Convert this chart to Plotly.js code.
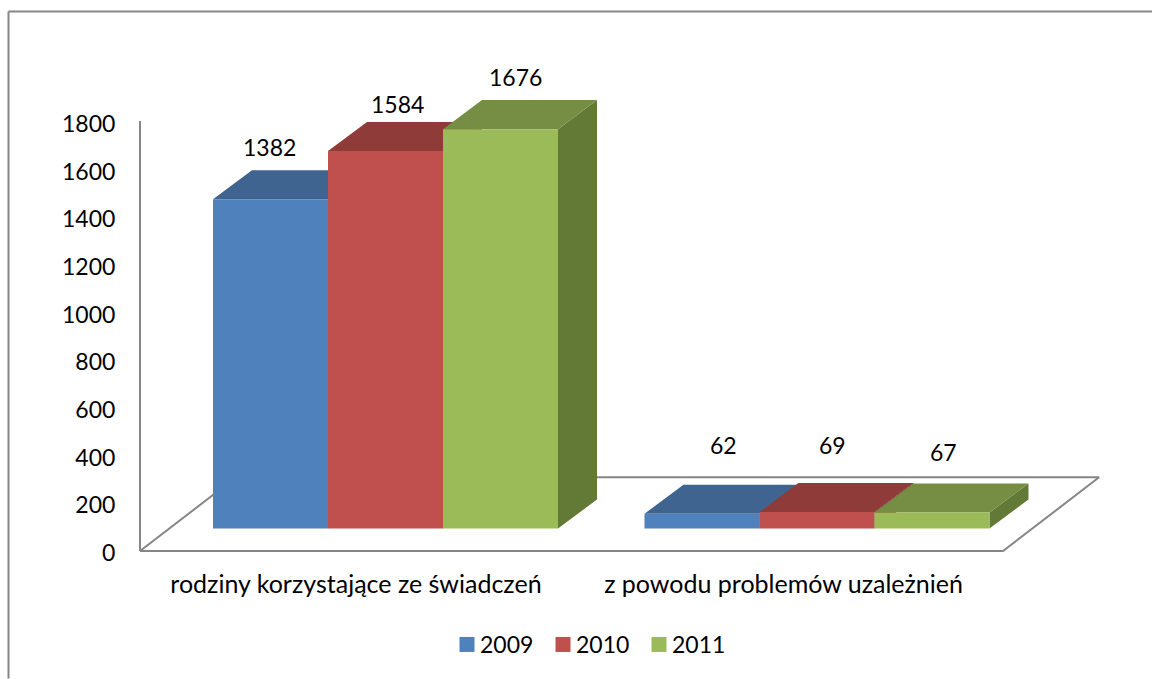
<!DOCTYPE html>
<html><head><meta charset="utf-8">
<script src="https://cdn.plot.ly/plotly-3.0.1.min.js"></script>
<style>html,body{margin:0;padding:0;background:#fff}#c{width:1152px;height:679px}
.legend .legendsymbols{transform:translate(7px,0)}</style>
</head><body><div id="c"></div>
<script>
// --- data ---
const categories = ['rodziny korzystające ze świadczeń', 'z powodu problemów uzależnień'];
const seriesNames = ['2009', '2010', '2011'];
const values2009 = [1382, 62];
const values2010 = [1584, 69];
const values2011 = [1676, 67];
const yTicks = [0, 200, 400, 600, 800, 1000, 1200, 1400, 1600, 1800];

// --- styles ---
const seriesValues = [values2009, values2010, values2011];
const frontColors = ['#4f81bd', '#c0504d', '#9bbb59'];
const topColors = ['#3e648f', '#8e3b39', '#768e43'];
const sideColors = ['#32506f', '#6f2e2c', '#637a36'];
const wallColor = '#868686';
const FONT = 'Lato, Carlito, sans-serif';

// --- scale geometry ---
const W = 1152, H = 679;
const PL = 130, PB = 560.5;    // plot area left and bottom edge, px
const wallPx = 140, zeroPx = 550.5;  // where the wall stands and where value 0 falls, px
const unitPx = 115, originPx = 385.5;           // one bar width, px; x of first group centre
const pxPerValue = 0.2385;
const xMin = (PL - originPx) / unitPx, xMax = (W - originPx) / unitPx;
const xWall = (wallPx - originPx) / unitPx;
const yMin = (zeroPx - PB) / pxPerValue, yMax = zeroPx / pxPerValue;
const groupCenters = [0, 3.752];
const base = 90;                   // bars stand this far in front of the wall on the floor
const depthX = 0.339, depthY = 122;
const floorFront = -4, floorRight = 5.37, floorDepthX = 0.835, floorDepthY = 305;
const labelShifts = [-0.257, -0.291];
// hand-placed data labels in the source: [dx, dy] px from the bar top centre
const labelOffsets = [[[-1, 52], [22, 69]], [[12, 47], [16, 67]], [[15, 52], [12, 61]]];

const traces = [];
// floor
traces.push({x: [xWall, floorRight, floorRight + floorDepthX, xWall + floorDepthX, xWall],
  y: [floorFront, floorFront, floorDepthY, floorDepthY, floorFront], mode: 'lines',
  line: {color: wallColor, width: 2}, showlegend: false, hoverinfo: 'skip'});
// wall axis
traces.push({x: [xWall, xWall], y: [floorFront, yTicks[yTicks.length - 1]], mode: 'lines',
  line: {color: wallColor, width: 2}, showlegend: false, hoverinfo: 'skip'});

function addFace(xs, ys, color) {
  traces.push({x: xs, y: ys, mode: 'lines', fill: 'toself', fillcolor: color,
    line: {width: 0, color: color}, showlegend: false, hoverinfo: 'skip'});
}
const annotations = [];
seriesValues.forEach((vals, s) => {
  const side = {x: [], y: []}, top = {x: [], y: []}, front = {x: [], y: []};
  vals.forEach((v, g) => {
    const x0 = groupCenters[g] + s - 1.5, x1 = x0 + 1, y0 = base, y1 = base + v;
    side.x.push(x1, x1 + depthX, x1 + depthX, x1, x1, null);
    side.y.push(y0, y0 + depthY, y1 + depthY, y1, y0, null);
    top.x.push(x0, x1, x1 + depthX, x0 + depthX, x0, null);
    top.y.push(y1, y1, y1 + depthY, y1 + depthY, y1, null);
    front.x.push(x0, x1, x1, x0, x0, null);
    front.y.push(y0, y0, y1, y1, y0, null);
    annotations.push({x: x0 + 0.5, y: y1, xref: 'x', yref: 'y', text: String(v), showarrow: false,
      xshift: labelOffsets[s][g][0], yshift: labelOffsets[s][g][1],
      font: {family: FONT, size: 23, color: '#000'}});
  });
  addFace(side.x, side.y, sideColors[s]);
  addFace(top.x, top.y, topColors[s]);
  addFace(front.x, front.y, frontColors[s]);
});
// legend entries
seriesNames.forEach((n, s) => traces.push({x: [null], y: [null], name: n, mode: 'markers',
  marker: {symbol: 'square', size: 15, color: frontColors[s]}, hoverinfo: 'skip'}));

const px = x => (x - PL) / (W - PL), py = y => (PB - y) / PB;
const border = {color: '#868686', width: 2};
const layout = {
  width: W, height: H, autosize: false,
  margin: {l: PL, r: 0, t: 0, b: H - PB, pad: 0},
  paper_bgcolor: '#fff', plot_bgcolor: 'rgba(0,0,0,0)', showlegend: true,
  xaxis: {range: [xMin, xMax], showgrid: false, zeroline: false, showline: false, automargin: false,
    tickmode: 'array', tickvals: groupCenters.map((c, i) => c + labelShifts[i]), ticktext: categories,
    ticks: 'outside', ticklen: 2, tickcolor: 'rgba(0,0,0,0)', tickangle: 0,
    tickfont: {family: FONT, size: 25, color: '#000'}},
  yaxis: {range: [yMin, yMax], showgrid: false, zeroline: false, showline: false, automargin: false,
    tickmode: 'array', tickvals: yTicks, ticktext: yTicks.map(String),
    ticks: 'outside', ticklen: 9, tickcolor: 'rgba(0,0,0,0)', ticklabelshift: 3,
    tickfont: {family: FONT, size: 23, color: '#000'}},
  legend: {orientation: 'h', xref: 'container', yref: 'container', x: 440 / W, y: 1 - 623 / H,
    xanchor: 'left', yanchor: 'top', itemsizing: 'trace', entrywidth: 51, entrywidthmode: 'pixels',
    font: {family: FONT, size: 23, color: '#000'}, bgcolor: 'rgba(0,0,0,0)', itemclick: false, itemdoubleclick: false},
  shapes: [
    {type: 'line', xref: 'paper', yref: 'paper', x0: px(8.5), x1: px(8.5), y0: py(H), y1: py(11.5), line: border},
    {type: 'line', xref: 'paper', yref: 'paper', x0: px(8.5), x1: px(W), y0: py(11.5), y1: py(11.5), line: border}
  ],
  annotations: annotations
};
Plotly.newPlot('c', traces, layout, {displayModeBar: false, staticPlot: true});
</script></body></html>
